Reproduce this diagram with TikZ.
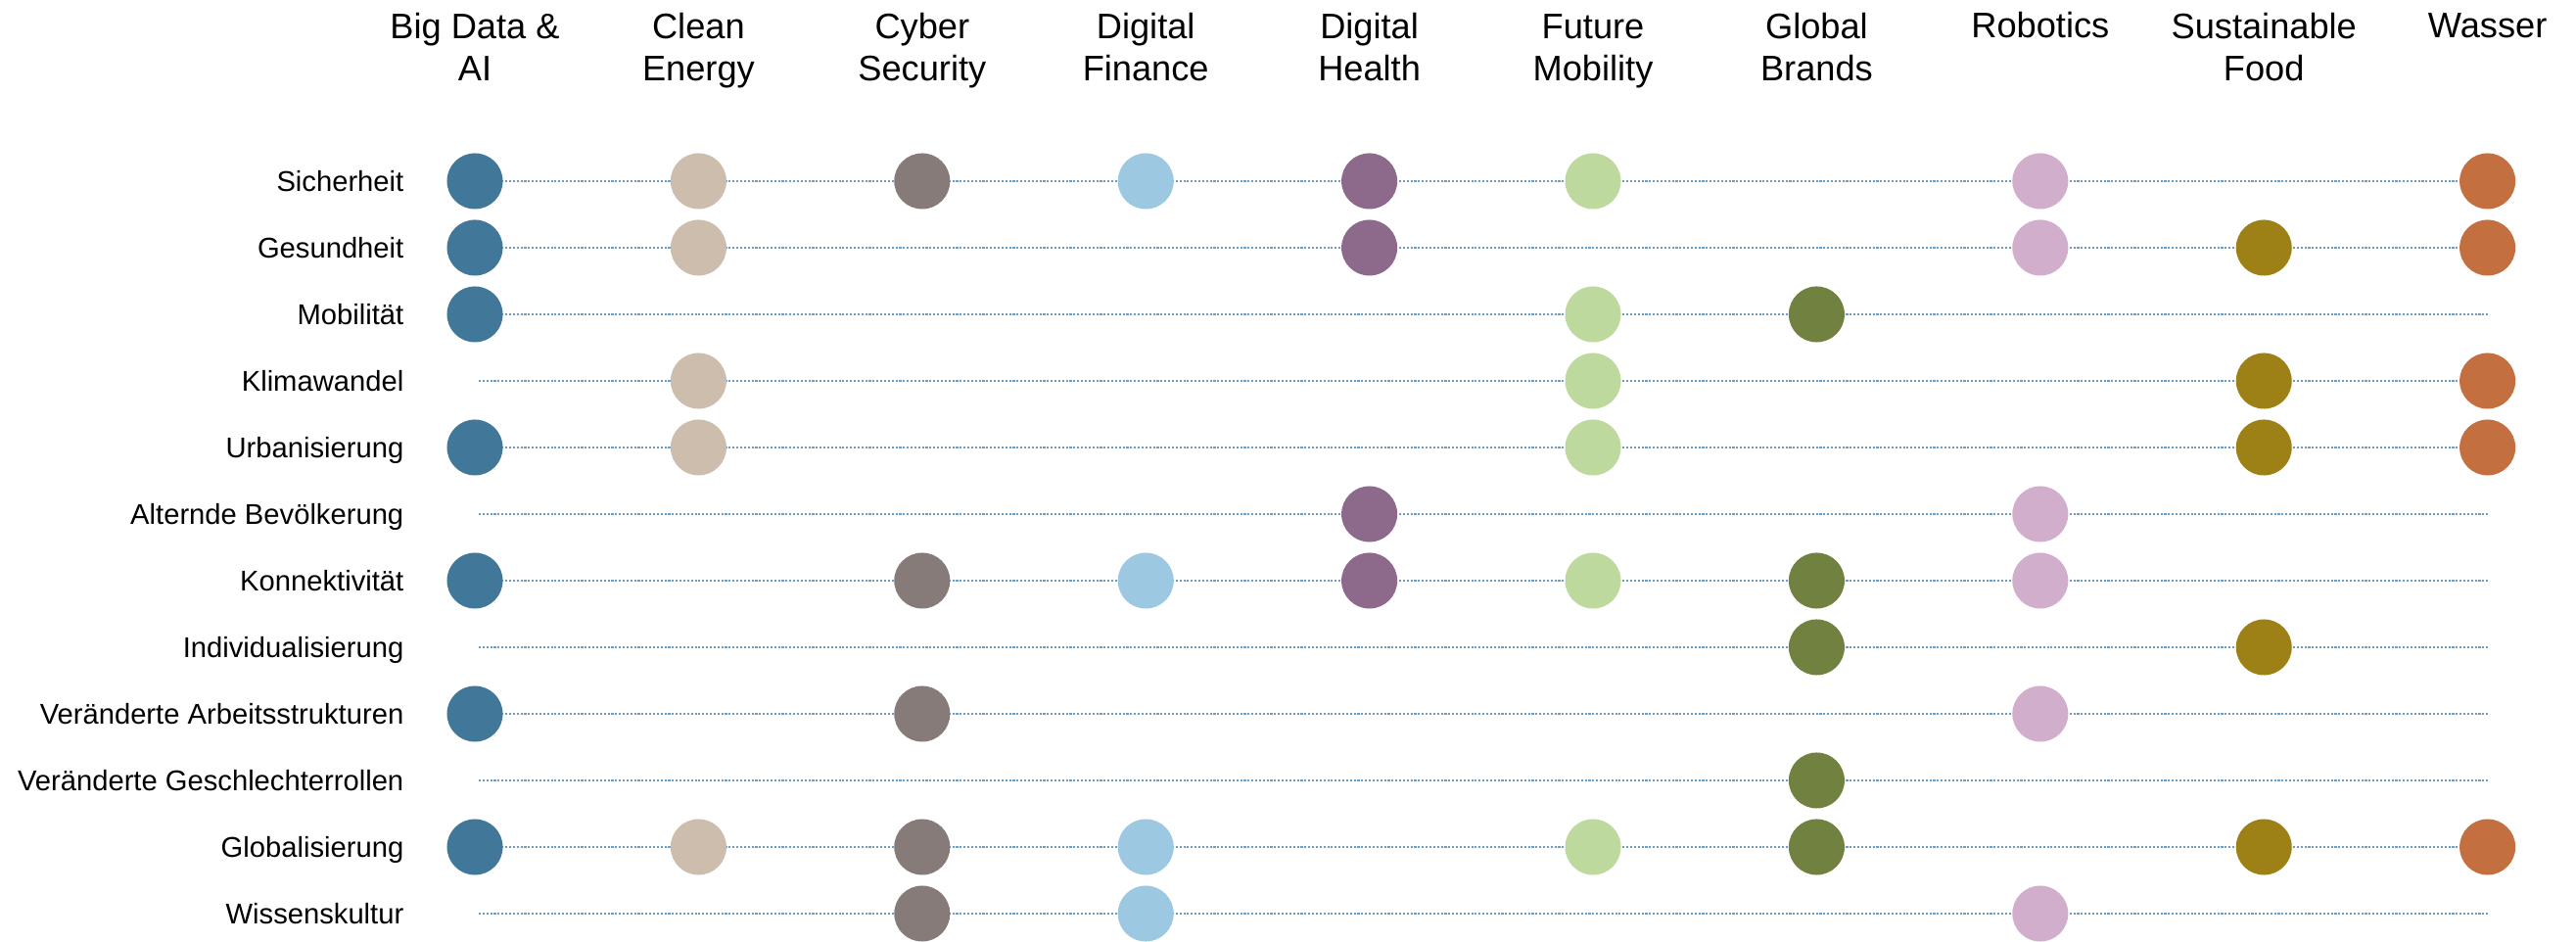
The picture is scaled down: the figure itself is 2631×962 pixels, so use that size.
\documentclass[tikz,border=0pt]{standalone}
\usepackage{fontspec}
\setmainfont{Liberation Sans}
\definecolor{col1}{HTML}{41789A}
\definecolor{col2}{HTML}{CDBDAD}
\definecolor{col3}{HTML}{867B79}
\definecolor{col4}{HTML}{9DC8E1}
\definecolor{col5}{HTML}{8D6A8B}
\definecolor{col6}{HTML}{BDD99E}
\definecolor{col7}{HTML}{718240}
\definecolor{col8}{HTML}{D0AECC}
\definecolor{col9}{HTML}{9E8116}
\definecolor{col10}{HTML}{C46F40}
\definecolor{gridblue}{HTML}{6E9CC0}
\begin{document}
\begin{tikzpicture}[x=0.01cm,y=-0.01cm,
  dot/.style={circle,minimum size=0.57cm,inner sep=0},
  rowline/.style={gridblue,line width=0.5pt,dash pattern=on 0.6pt off 0.5pt},
  rowlab/.style={anchor=base east,inner sep=0,font=\fontsize{8.3}{10}\selectfont},
  colhead/.style={anchor=base,inner sep=0,align=center,font=\fontsize{10.3}{12.5}\selectfont}]
\useasboundingbox (0,0) rectangle (2631,962);
% column heads (base = last line)
\foreach \h/\hy [count=\c] in {{Big Data \&\\AI}/83,{Clean\\Energy}/83,{Cyber\\Security}/83,{Digital\\Finance}/83,{Digital\\Health}/83,{Future\\Mobility}/83,{Global\\Brands}/83,{Robotics}/39,{Sustainable\\Food}/83,{Wasser}/39}
  \node[colhead] (h\c) at ({485+(\c-1)*228.4},\hy) {\h};
% rows
\foreach \lab [count=\r] in {Sicherheit,Gesundheit,Mobilität,Klimawandel,Urbanisierung,Alternde Bevölkerung,Konnektivität,Individualisierung,Veränderte Arbeitsstrukturen,Veränderte Geschlechterrollen,Globalisierung,Wissenskultur}{
  \coordinate (s\r) at (489,{185+(\r-1)*68});
  \coordinate (e\r) at (2541,{185+(\r-1)*68});
  \draw[rowline] (s\r) -- (e\r);
  \node[rowlab] (l\r) at (413,{196+(\r-1)*68}) {\lab};
}
% dots
\foreach \r/\c in {1/1,1/2,1/3,1/4,1/5,1/6,1/8,1/10,
  2/1,2/2,2/5,2/8,2/9,2/10,
  3/1,3/6,3/7,
  4/2,4/6,4/9,4/10,
  5/1,5/2,5/6,5/9,5/10,
  6/5,6/8,
  7/1,7/3,7/4,7/5,7/6,7/7,7/8,
  8/7,8/9,
  9/1,9/3,9/8,
  10/7,
  11/1,11/2,11/3,11/4,11/6,11/7,11/9,11/10,
  12/3,12/4,12/8}
  \node[dot,fill=col\c] (d\r-\c) at ({485+(\c-1)*228.4},{185+(\r-1)*68}) {};
\end{tikzpicture}
\end{document}
